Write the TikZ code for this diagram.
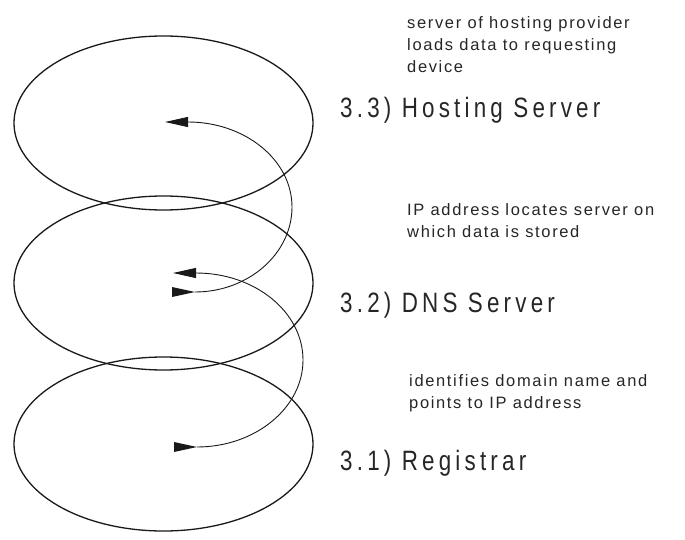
\documentclass[tikz,border=0pt]{standalone}
\usepackage{fontspec}
\setmainfont{Liberation Sans}
\newfontfamily\labfont{Liberation Sans}[FakeStretch=0.8, LetterSpace=15]
\newfontfamily\notefont{Liberation Sans}[LetterSpace=10]
\usetikzlibrary{arrows.meta,calc}
\begin{document}
\begin{tikzpicture}[x=1pt,y=-1pt,
  ring/.style={draw=black!90, line width=1.3pt},
  flow/.style={draw=black!90, line width=0.9pt, -{Triangle[length=23pt,width=10pt]}},
  startmark/.style={fill=black!90},
  lab/.style={anchor=base west, inner sep=0pt, font=\labfont\fontsize{28}{28}\selectfont, text=black!85},
  note/.style={anchor=base west, inner sep=0pt, align=left, font=\notefont\fontsize{16.5}{22}\selectfont, text=black!85}]
\useasboundingbox (0,0) rectangle (685,540);
% rings
\draw[ring] (163.5,123) ellipse [x radius=149.5, y radius=87];
\draw[ring] (163.5,283) ellipse [x radius=149.5, y radius=87];
\draw[ring] (163.5,444) ellipse [x radius=149.5, y radius=87];
% arc ends
\coordinate (s1) at (197,447);
\coordinate (e1) at (173,273);
\coordinate (s2) at (195,292);
\coordinate (e2) at (165,122);
% start markers
\fill[startmark] (s1) -- ++(-23,-5) -- ++(0,10) -- cycle;
\fill[startmark] (s2) -- ++(-23,-5) -- ++(0,10) -- cycle;
% flows
\draw[flow] (s1) .. controls (255,447) and (303,408) .. (303,360)
  .. controls (303,312) and (255,273) .. ($(e1)+(23,0)$) -- (e1);
\draw[flow] (s2) .. controls (248,292) and (292,254) .. (292,207)
  .. controls (292,160) and (245,122) .. ($(e2)+(23,0)$) -- (e2);
% labels
\node[lab] (l3) at (340,118) {3.3) Hosting Server};
\node[lab] (l2) at (340,312) {3.2) DNS Server};
\node[lab] (l1) at (340,470) {3.1) Registrar};
\node[note] (n3) at (407,73) {server of hosting provider\\loads data to requesting\\device};
\node[note] (n2) at (407,237) {IP address locates server on\\which data is stored};
\node[note] (n1) at (409,408) {identifies domain name and\\points to IP address};
\end{tikzpicture}
\end{document}
